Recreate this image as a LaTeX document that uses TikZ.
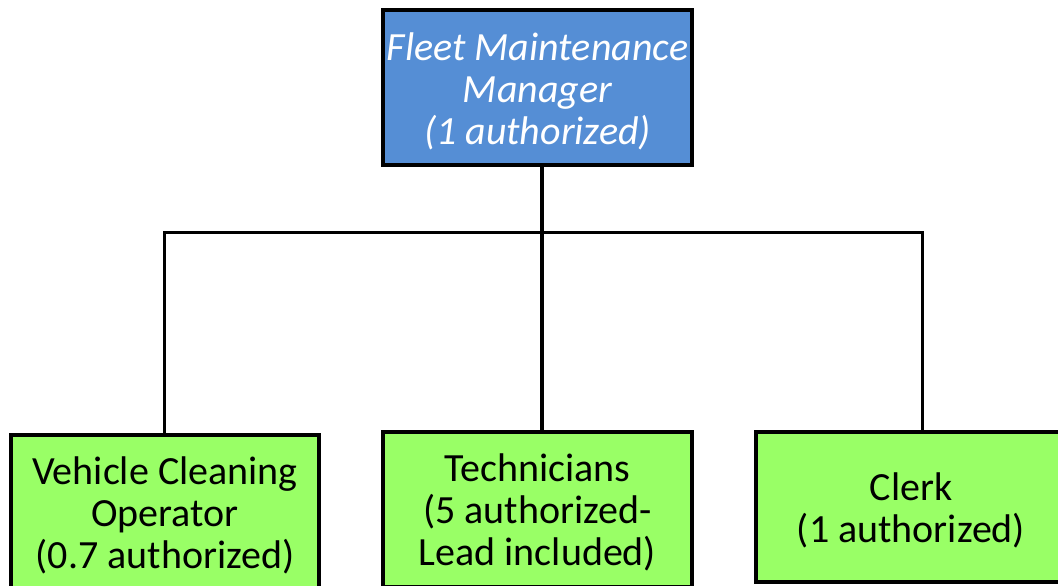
\documentclass[tikz,border=0pt]{standalone}
\usepackage{fontspec}
\setmainfont{Carlito}
\definecolor{mgrblue}{RGB}{85,142,213}
\definecolor{staffgreen}{RGB}{153,255,102}
\begin{document}
\begin{tikzpicture}[x=1pt,y=-1pt,
  orgbox/.style={draw=black, line width=4pt, rectangle, align=center, inner sep=0pt,
    font=\fontsize{40}{42}\selectfont},
  mgrbox/.style={orgbox, fill=mgrblue, text=white, font=\fontsize{40}{42}\selectfont\itshape},
  staffbox/.style={orgbox, fill=staffgreen, text=black},
  link/.style={draw=black, line width=3pt}]
\useasboundingbox (0,0) rectangle (1058,586);
\node[mgrbox, minimum width=309pt, minimum height=155pt] (top) at (537.5,87.5)
  {\rule{0pt}{36pt}Fleet Maintenance\\Manager\\(1 authorized)};
\node[staffbox, minimum width=308pt, minimum height=155pt] (left) at (165,512.5)
  {\rule{0pt}{34pt}Vehicle Cleaning\\Operator\\(0.7 authorized)};
\node[staffbox, minimum width=309pt, minimum height=155pt] (mid) at (537.5,509.5)
  {\rule{0pt}{34pt}Technicians\\(5 authorized-\\Lead included)};
\node[staffbox, minimum width=310pt, minimum height=150pt] (right) at (911,507)
  {\rule{0pt}{34pt}Clerk\\(1 authorized)};
\coordinate (jc) at (541.5,232);
\coordinate (jl) at (164.5,232);
\coordinate (jr) at (922.5,232);
\draw[link, line width=4pt] (jc |- top.south) -- (jc |- mid.north);
\draw[link, line cap=rect] (jl |- left.north) -- (jl) -- (jr) -- (jr |- right.north);
\end{tikzpicture}
\end{document}
